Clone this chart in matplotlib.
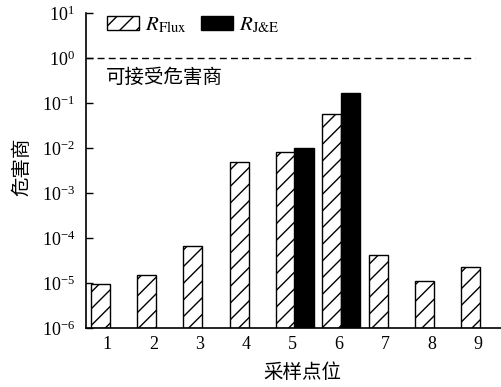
import numpy as np
import matplotlib
matplotlib.use("Agg")
import matplotlib.pyplot as plt
from matplotlib.mathtext import MathTextParser

plt.rcParams['font.family'] = ['Liberation Serif', 'Noto Sans CJK SC']
plt.rcParams['mathtext.fontset'] = 'stix'
plt.rcParams['hatch.linewidth'] = 1.0

points = [1, 2, 3, 4, 5, 6, 7, 8, 9]
r_flux = [8.5e-6, 1.4e-5, 6.4e-5, 4.9e-3, 8.0e-3, 5.6e-2, 4.1e-5, 1.0e-5, 2.2e-5]
je_points = [5, 6]
r_je = [1.0e-2, 1.7e-1]
limit = 1.0

je_label = r'$R_{\mathrm{J&E}}$'
try:
    MathTextParser('path').parse(je_label)
except Exception:
    je_label = r'$R_{\mathrm{J}}$'

W, H = 501, 387
x = np.array(points)

fig = plt.figure(figsize=(W/100, H/100), dpi=100)
ax = fig.add_axes([86/W, 1-328/H, 415/W, 315/H])

ax.bar(x - 0.155, r_flux, width=0.41, bottom=1e-6, color='white', edgecolor='black',
       hatch='//', linewidth=1.0, label=r'$R_{\mathrm{Flux}}$', zorder=2)
ax.bar(np.array(je_points) + 0.25, r_je, width=0.43, bottom=1e-6, color='black',
       edgecolor='black', linewidth=1.0, label=je_label, zorder=3)

ax.set_yscale('log')
ax.set_ylim(1e-6, 1e1)
ax.set_xlim(0.54, 9.5)
ax.axhline(limit, xmin=0, xmax=(8.93-0.54)/(9.5-0.54), color='black',
           linestyle=(0, (5, 3)), linewidth=1.0)
fig.text(106/W, 1-77/H, '可接受危害商', fontsize=14, va='center', ha='left',
         family=['Noto Sans CJK SC'])

ax.set_xticks(points)
ax.set_xticklabels([str(p) for p in points])
ax.set_yticks([10.0**k for k in range(-6, 2)])
ax.minorticks_off()
ax.tick_params(axis='y', direction='in', length=5, width=1.0, labelsize=13, pad=8)
ax.tick_params(axis='x', length=0, labelsize=13, pad=6)

ax.spines['top'].set_visible(False)
ax.spines['right'].set_visible(False)
ax.spines['left'].set_linewidth(1.2)
ax.spines['bottom'].set_linewidth(1.2)

fig.text(22/W, 1-167/H, '危害商', fontsize=14, rotation=90, va='center', ha='center',
         family=['Noto Sans CJK SC'])
fig.text(302/W, 1-373/H, '采样点位', fontsize=14, va='center', ha='center',
         family=['Noto Sans CJK SC'])

ax.legend(loc='upper left', bbox_to_anchor=(107/W, 1-16/H), bbox_transform=fig.transFigure,
          ncol=2, frameon=False, fontsize=15, handlelength=1.53, handleheight=0.67,
          columnspacing=0.7, handletextpad=0.3, borderpad=0, borderaxespad=0)

fig.savefig('out.png', dpi=100)
